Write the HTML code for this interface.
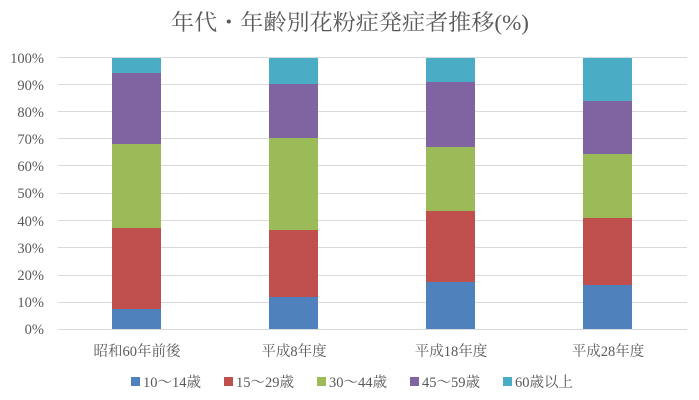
<!DOCTYPE html>
<html><head><meta charset="utf-8"><style>body{margin:0;background:#fff}svg{display:block}text{font-family:"Liberation Serif","Noto Serif CJK SC",serif;fill:#595959}</style></head><body>
<svg width="699" height="400" xmlns="http://www.w3.org/2000/svg">
<rect width="699" height="400" fill="#fff"/>
<text x="350" y="30" font-size="22" text-anchor="middle" textLength="358" lengthAdjust="spacingAndGlyphs">年代・年齢別花粉症発症者推移(%)</text>
<g stroke="#d9d9d9" stroke-width="1">
<line x1="58" x2="687" y1="57.5" y2="57.5"/><line x1="58" x2="687" y1="84.5" y2="84.5"/><line x1="58" x2="687" y1="111.5" y2="111.5"/><line x1="58" x2="687" y1="138.5" y2="138.5"/><line x1="58" x2="687" y1="165.5" y2="165.5"/><line x1="58" x2="687" y1="193.5" y2="193.5"/><line x1="58" x2="687" y1="220.5" y2="220.5"/><line x1="58" x2="687" y1="247.5" y2="247.5"/><line x1="58" x2="687" y1="275.5" y2="275.5"/><line x1="58" x2="687" y1="302.5" y2="302.5"/><line x1="58" x2="687" y1="329.5" y2="329.5"/>
</g>
<g font-size="14.5" text-anchor="end">
<text x="44" y="63">100%</text><text x="44" y="90">90%</text><text x="44" y="117">80%</text><text x="44" y="144">70%</text><text x="44" y="171">60%</text><text x="44" y="198">50%</text><text x="44" y="226">40%</text><text x="44" y="253">30%</text><text x="44" y="280">20%</text><text x="44" y="307">10%</text><text x="44" y="334">0%</text>
</g>
<g>
<rect x="112" y="58" width="49" height="15" fill="#4bacc6"/><rect x="112" y="73" width="49" height="71" fill="#8064a2"/><rect x="112" y="144" width="49" height="84" fill="#9bbb59"/><rect x="112" y="228" width="49" height="81" fill="#c0504d"/><rect x="112" y="309" width="49" height="20" fill="#4f81bd"/>
<rect x="269" y="58" width="49" height="26" fill="#4bacc6"/><rect x="269" y="84" width="49" height="54" fill="#8064a2"/><rect x="269" y="138" width="49" height="92" fill="#9bbb59"/><rect x="269" y="230" width="49" height="67" fill="#c0504d"/><rect x="269" y="297" width="49" height="32" fill="#4f81bd"/>
<rect x="426" y="58" width="49" height="24" fill="#4bacc6"/><rect x="426" y="82" width="49" height="65" fill="#8064a2"/><rect x="426" y="147" width="49" height="64" fill="#9bbb59"/><rect x="426" y="211" width="49" height="71" fill="#c0504d"/><rect x="426" y="282" width="49" height="47" fill="#4f81bd"/>
<rect x="583" y="58" width="49" height="43" fill="#4bacc6"/><rect x="583" y="101" width="49" height="53" fill="#8064a2"/><rect x="583" y="154" width="49" height="64" fill="#9bbb59"/><rect x="583" y="218" width="49" height="67" fill="#c0504d"/><rect x="583" y="285" width="49" height="44" fill="#4f81bd"/>
</g>
<g font-size="14.5" text-anchor="middle">
<text x="137" y="356">昭和60年前後</text><text x="294" y="356">平成8年度</text><text x="451" y="356">平成18年度</text><text x="608" y="356">平成28年度</text>
</g>
<g font-size="14.5">
<rect x="131" y="377" width="9" height="9" fill="#4f81bd"/><text x="143" y="387">10～14歳</text>
<rect x="224" y="377" width="9" height="9" fill="#c0504d"/><text x="236" y="387">15～29歳</text>
<rect x="317" y="377" width="9" height="9" fill="#9bbb59"/><text x="329" y="387">30～44歳</text>
<rect x="410" y="377" width="9" height="9" fill="#8064a2"/><text x="422" y="387">45～59歳</text>
<rect x="503" y="377" width="9" height="9" fill="#4bacc6"/><text x="515" y="387">60歳以上</text>
</g>
</svg>
</body></html>
